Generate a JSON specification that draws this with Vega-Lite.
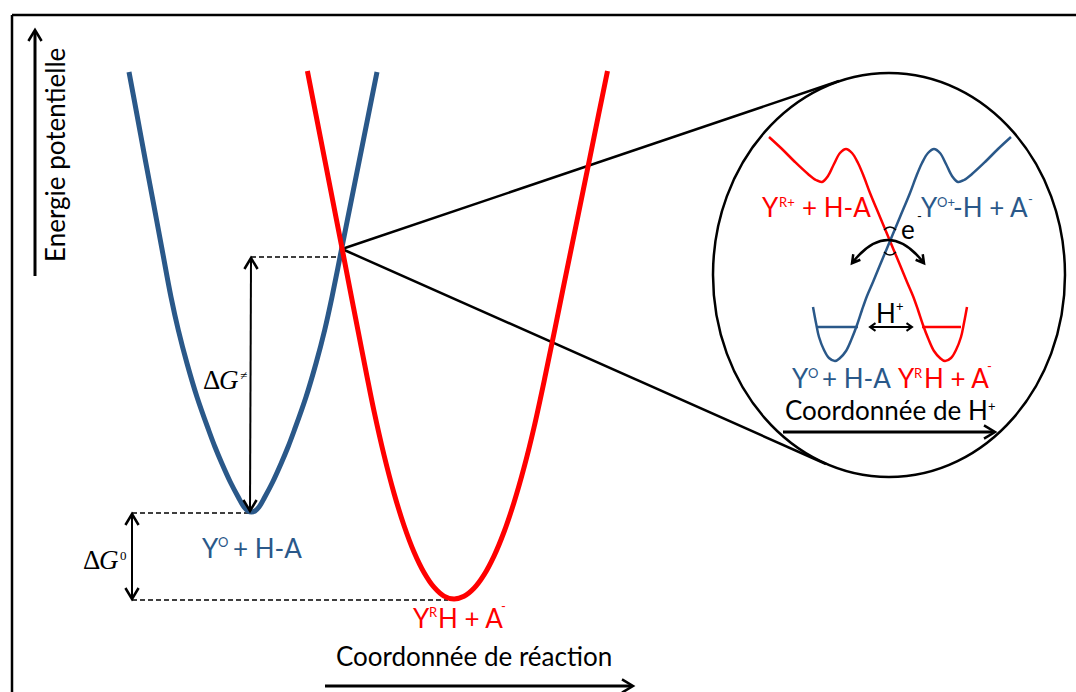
{
  "$schema": "https://vega.github.io/schema/vega-lite/v6.json",
  "width": 1076,
  "height": 692,
  "autosize": {"type": "none"},
  "padding": 0,
  "background": "#ffffff",
  "config": {"view": {"stroke": null}},
  "datasets": {
    "segments": [
      {"role": "cadre", "couleur": "noir", "x": 12, "y": 15, "x2": 1076, "y2": 15},
      {"role": "cadre", "couleur": "noir", "x": 12, "y": 15, "x2": 12, "y2": 692},
      {"role": "tangente", "couleur": "noir", "x": 342, "y": 249, "x2": 839, "y2": 81},
      {"role": "tangente", "couleur": "noir", "x": 342, "y": 249, "x2": 826, "y2": 464},
      {"role": "pointille", "couleur": "noir", "x": 251, "y": 257, "x2": 342, "y2": 257},
      {"role": "pointille", "couleur": "noir", "x": 132, "y": 513, "x2": 250, "y2": 513},
      {"role": "pointille", "couleur": "noir", "x": 132, "y": 600, "x2": 448, "y2": 600},
      {"role": "axe", "couleur": "noir", "x": 35, "y": 276, "x2": 35, "y2": 32},
      {"role": "axe", "couleur": "noir", "x": 325, "y": 686, "x2": 631, "y2": 686},
      {"role": "axe", "couleur": "noir", "x": 783, "y": 432, "x2": 993, "y2": 432},
      {"role": "delta", "couleur": "noir", "x": 251, "y": 260, "x2": 250, "y2": 509},
      {"role": "delta", "couleur": "noir", "x": 132, "y": 516, "x2": 132, "y2": 597},
      {"role": "delta", "couleur": "noir", "x": 871, "y": 327, "x2": 911, "y2": 327},
      {"role": "niveau", "couleur": "bleu", "x": 817, "y": 327, "x2": 858, "y2": 327},
      {"role": "niveau", "couleur": "rouge", "x": 922, "y": 327, "x2": 961, "y2": 327}
    ],
    "courbes": [
      {"echelle": "grande", "couleur": "bleu", "i": 0, "x": 129, "y": 72},
      {"echelle": "grande", "couleur": "bleu", "i": 1, "x": 137.2, "y": 116},
      {"echelle": "grande", "couleur": "bleu", "i": 2, "x": 145.3, "y": 160},
      {"echelle": "grande", "couleur": "bleu", "i": 3, "x": 153.6, "y": 204},
      {"echelle": "grande", "couleur": "bleu", "i": 4, "x": 161.8, "y": 248},
      {"echelle": "grande", "couleur": "bleu", "i": 5, "x": 171, "y": 297},
      {"echelle": "grande", "couleur": "bleu", "i": 6, "x": 178.3, "y": 330},
      {"echelle": "grande", "couleur": "bleu", "i": 7, "x": 186.9, "y": 363},
      {"echelle": "grande", "couleur": "bleu", "i": 8, "x": 197, "y": 397},
      {"echelle": "grande", "couleur": "bleu", "i": 9, "x": 208.6, "y": 430},
      {"echelle": "grande", "couleur": "bleu", "i": 10, "x": 215, "y": 447},
      {"echelle": "grande", "couleur": "bleu", "i": 11, "x": 221.7, "y": 463},
      {"echelle": "grande", "couleur": "bleu", "i": 12, "x": 230.3, "y": 482},
      {"echelle": "grande", "couleur": "bleu", "i": 13, "x": 238.2, "y": 497},
      {"echelle": "grande", "couleur": "bleu", "i": 14, "x": 244, "y": 507},
      {"echelle": "grande", "couleur": "bleu", "i": 15, "x": 248, "y": 511},
      {"echelle": "grande", "couleur": "bleu", "i": 16, "x": 251.5, "y": 512},
      {"echelle": "grande", "couleur": "bleu", "i": 17, "x": 255, "y": 511},
      {"echelle": "grande", "couleur": "bleu", "i": 18, "x": 259, "y": 507},
      {"echelle": "grande", "couleur": "bleu", "i": 19, "x": 264.8, "y": 497},
      {"echelle": "grande", "couleur": "bleu", "i": 20, "x": 272.7, "y": 482},
      {"echelle": "grande", "couleur": "bleu", "i": 21, "x": 281.3, "y": 463},
      {"echelle": "grande", "couleur": "bleu", "i": 22, "x": 288, "y": 447},
      {"echelle": "grande", "couleur": "bleu", "i": 23, "x": 294.4, "y": 430},
      {"echelle": "grande", "couleur": "bleu", "i": 24, "x": 306, "y": 397},
      {"echelle": "grande", "couleur": "bleu", "i": 25, "x": 316.1, "y": 363},
      {"echelle": "grande", "couleur": "bleu", "i": 26, "x": 324.7, "y": 330},
      {"echelle": "grande", "couleur": "bleu", "i": 27, "x": 332, "y": 297},
      {"echelle": "grande", "couleur": "bleu", "i": 28, "x": 341.8, "y": 248},
      {"echelle": "grande", "couleur": "bleu", "i": 29, "x": 350.6, "y": 204},
      {"echelle": "grande", "couleur": "bleu", "i": 30, "x": 359.4, "y": 160},
      {"echelle": "grande", "couleur": "bleu", "i": 31, "x": 368.2, "y": 116},
      {"echelle": "grande", "couleur": "bleu", "i": 32, "x": 377, "y": 72},
      {"echelle": "grande", "couleur": "rouge", "i": 0, "x": 307.4, "y": 71},
      {"echelle": "grande", "couleur": "rouge", "i": 1, "x": 316, "y": 115},
      {"echelle": "grande", "couleur": "rouge", "i": 2, "x": 324.8, "y": 160},
      {"echelle": "grande", "couleur": "rouge", "i": 3, "x": 333.4, "y": 204},
      {"echelle": "grande", "couleur": "rouge", "i": 4, "x": 342, "y": 248},
      {"echelle": "grande", "couleur": "rouge", "i": 5, "x": 350.1, "y": 290},
      {"echelle": "grande", "couleur": "rouge", "i": 6, "x": 357.9, "y": 330},
      {"echelle": "grande", "couleur": "rouge", "i": 7, "x": 366.8, "y": 375.4},
      {"echelle": "grande", "couleur": "rouge", "i": 8, "x": 374, "y": 411},
      {"echelle": "grande", "couleur": "rouge", "i": 9, "x": 384, "y": 455},
      {"echelle": "grande", "couleur": "rouge", "i": 10, "x": 394, "y": 493.2},
      {"echelle": "grande", "couleur": "rouge", "i": 11, "x": 404, "y": 525.5},
      {"echelle": "grande", "couleur": "rouge", "i": 12, "x": 414, "y": 552},
      {"echelle": "grande", "couleur": "rouge", "i": 13, "x": 424, "y": 572.5},
      {"echelle": "grande", "couleur": "rouge", "i": 14, "x": 434, "y": 587.2},
      {"echelle": "grande", "couleur": "rouge", "i": 15, "x": 444, "y": 596.1},
      {"echelle": "grande", "couleur": "rouge", "i": 16, "x": 454, "y": 599},
      {"echelle": "grande", "couleur": "rouge", "i": 17, "x": 464, "y": 596.3},
      {"echelle": "grande", "couleur": "rouge", "i": 18, "x": 474, "y": 588.3},
      {"echelle": "grande", "couleur": "rouge", "i": 19, "x": 484, "y": 574.9},
      {"echelle": "grande", "couleur": "rouge", "i": 20, "x": 494, "y": 556.1},
      {"echelle": "grande", "couleur": "rouge", "i": 21, "x": 504, "y": 532},
      {"echelle": "grande", "couleur": "rouge", "i": 22, "x": 514, "y": 502.5},
      {"echelle": "grande", "couleur": "rouge", "i": 23, "x": 524, "y": 467.7},
      {"echelle": "grande", "couleur": "rouge", "i": 24, "x": 534, "y": 427.5},
      {"echelle": "grande", "couleur": "rouge", "i": 25, "x": 545.6, "y": 374.1},
      {"echelle": "grande", "couleur": "rouge", "i": 26, "x": 554.7, "y": 330},
      {"echelle": "grande", "couleur": "rouge", "i": 27, "x": 562.8, "y": 290},
      {"echelle": "grande", "couleur": "rouge", "i": 28, "x": 571.4, "y": 248},
      {"echelle": "grande", "couleur": "rouge", "i": 29, "x": 580.4, "y": 204},
      {"echelle": "grande", "couleur": "rouge", "i": 30, "x": 589.4, "y": 160},
      {"echelle": "grande", "couleur": "rouge", "i": 31, "x": 598.5, "y": 115},
      {"echelle": "grande", "couleur": "rouge", "i": 32, "x": 607.5, "y": 71},
      {"echelle": "encart", "couleur": "rouge", "i": 0, "x": 769, "y": 137},
      {"echelle": "encart", "couleur": "rouge", "i": 1, "x": 782, "y": 149},
      {"echelle": "encart", "couleur": "rouge", "i": 2, "x": 795, "y": 162},
      {"echelle": "encart", "couleur": "rouge", "i": 3, "x": 808, "y": 174},
      {"echelle": "encart", "couleur": "rouge", "i": 4, "x": 816, "y": 180},
      {"echelle": "encart", "couleur": "rouge", "i": 5, "x": 822, "y": 182},
      {"echelle": "encart", "couleur": "rouge", "i": 6, "x": 828, "y": 176},
      {"echelle": "encart", "couleur": "rouge", "i": 7, "x": 834, "y": 164},
      {"echelle": "encart", "couleur": "rouge", "i": 8, "x": 840, "y": 153},
      {"echelle": "encart", "couleur": "rouge", "i": 9, "x": 846, "y": 149},
      {"echelle": "encart", "couleur": "rouge", "i": 10, "x": 852, "y": 153},
      {"echelle": "encart", "couleur": "rouge", "i": 11, "x": 858, "y": 163},
      {"echelle": "encart", "couleur": "rouge", "i": 12, "x": 864, "y": 177},
      {"echelle": "encart", "couleur": "rouge", "i": 13, "x": 870, "y": 193},
      {"echelle": "encart", "couleur": "rouge", "i": 14, "x": 880, "y": 217},
      {"echelle": "encart", "couleur": "rouge", "i": 15, "x": 890, "y": 241},
      {"echelle": "encart", "couleur": "rouge", "i": 16, "x": 900, "y": 265},
      {"echelle": "encart", "couleur": "rouge", "i": 17, "x": 907, "y": 282},
      {"echelle": "encart", "couleur": "rouge", "i": 18, "x": 913, "y": 296},
      {"echelle": "encart", "couleur": "rouge", "i": 19, "x": 918, "y": 310},
      {"echelle": "encart", "couleur": "rouge", "i": 20, "x": 923, "y": 325},
      {"echelle": "encart", "couleur": "rouge", "i": 21, "x": 928, "y": 338},
      {"echelle": "encart", "couleur": "rouge", "i": 22, "x": 934, "y": 351},
      {"echelle": "encart", "couleur": "rouge", "i": 23, "x": 940, "y": 358},
      {"echelle": "encart", "couleur": "rouge", "i": 24, "x": 945, "y": 361},
      {"echelle": "encart", "couleur": "rouge", "i": 25, "x": 951, "y": 358},
      {"echelle": "encart", "couleur": "rouge", "i": 26, "x": 956, "y": 350},
      {"echelle": "encart", "couleur": "rouge", "i": 27, "x": 961, "y": 337},
      {"echelle": "encart", "couleur": "rouge", "i": 28, "x": 964, "y": 323},
      {"echelle": "encart", "couleur": "rouge", "i": 29, "x": 967, "y": 307},
      {"echelle": "encart", "couleur": "bleu", "i": 0, "x": 1011, "y": 137},
      {"echelle": "encart", "couleur": "bleu", "i": 1, "x": 998, "y": 149},
      {"echelle": "encart", "couleur": "bleu", "i": 2, "x": 985, "y": 162},
      {"echelle": "encart", "couleur": "bleu", "i": 3, "x": 972, "y": 174},
      {"echelle": "encart", "couleur": "bleu", "i": 4, "x": 964, "y": 180},
      {"echelle": "encart", "couleur": "bleu", "i": 5, "x": 958, "y": 182},
      {"echelle": "encart", "couleur": "bleu", "i": 6, "x": 952, "y": 176},
      {"echelle": "encart", "couleur": "bleu", "i": 7, "x": 946, "y": 164},
      {"echelle": "encart", "couleur": "bleu", "i": 8, "x": 940, "y": 153},
      {"echelle": "encart", "couleur": "bleu", "i": 9, "x": 934, "y": 149},
      {"echelle": "encart", "couleur": "bleu", "i": 10, "x": 928, "y": 153},
      {"echelle": "encart", "couleur": "bleu", "i": 11, "x": 922, "y": 163},
      {"echelle": "encart", "couleur": "bleu", "i": 12, "x": 916, "y": 177},
      {"echelle": "encart", "couleur": "bleu", "i": 13, "x": 910, "y": 193},
      {"echelle": "encart", "couleur": "bleu", "i": 14, "x": 900, "y": 217},
      {"echelle": "encart", "couleur": "bleu", "i": 15, "x": 890, "y": 241},
      {"echelle": "encart", "couleur": "bleu", "i": 16, "x": 880, "y": 265},
      {"echelle": "encart", "couleur": "bleu", "i": 17, "x": 873, "y": 282},
      {"echelle": "encart", "couleur": "bleu", "i": 18, "x": 867, "y": 296},
      {"echelle": "encart", "couleur": "bleu", "i": 19, "x": 862, "y": 310},
      {"echelle": "encart", "couleur": "bleu", "i": 20, "x": 857, "y": 325},
      {"echelle": "encart", "couleur": "bleu", "i": 21, "x": 852, "y": 338},
      {"echelle": "encart", "couleur": "bleu", "i": 22, "x": 846, "y": 351},
      {"echelle": "encart", "couleur": "bleu", "i": 23, "x": 840, "y": 358},
      {"echelle": "encart", "couleur": "bleu", "i": 24, "x": 835, "y": 361},
      {"echelle": "encart", "couleur": "bleu", "i": 25, "x": 829, "y": 358},
      {"echelle": "encart", "couleur": "bleu", "i": 26, "x": 824, "y": 350},
      {"echelle": "encart", "couleur": "bleu", "i": 27, "x": 819, "y": 337},
      {"echelle": "encart", "couleur": "bleu", "i": 28, "x": 816, "y": 323},
      {"echelle": "encart", "couleur": "bleu", "i": 29, "x": 813, "y": 307}
    ],
    "pointes": [
      {"taille": "grande", "x": 35, "y": 30, "dir": 0},
      {"taille": "grande", "x": 633, "y": 686, "dir": 90},
      {"taille": "grande", "x": 995, "y": 432, "dir": 90},
      {"taille": "grande", "x": 251, "y": 258, "dir": 0},
      {"taille": "grande", "x": 250, "y": 511, "dir": 180},
      {"taille": "grande", "x": 132, "y": 514, "dir": 0},
      {"taille": "grande", "x": 132, "y": 599, "dir": 180},
      {"taille": "petite", "x": 870, "y": 327, "dir": 270},
      {"taille": "petite", "x": 912, "y": 327, "dir": 90}
    ],
    "textes": [
      {"couleur": "noir", "x": 336, "y": 666, "texte": "Coordonnée de réaction"},
      {"couleur": "bleu", "x": 202, "y": 558, "texte": "Y"},
      {"couleur": "bleu", "x": 233, "y": 558, "texte": "+ H-A"},
      {"couleur": "rouge", "x": 413, "y": 628, "texte": "Y"},
      {"couleur": "rouge", "x": 438, "y": 628, "texte": "H + A"},
      {"couleur": "rouge", "x": 762, "y": 217, "texte": "Y"},
      {"couleur": "rouge", "x": 802, "y": 217, "texte": "+ H-A"},
      {"couleur": "bleu", "x": 921, "y": 217, "texte": "Y"},
      {"couleur": "bleu", "x": 953, "y": 217, "texte": "-H + A"},
      {"couleur": "noir", "x": 901, "y": 239, "texte": "e"},
      {"couleur": "noir", "x": 876, "y": 323, "texte": "H"},
      {"couleur": "bleu", "x": 792, "y": 388, "texte": "Y"},
      {"couleur": "bleu", "x": 822, "y": 388, "texte": "+ H-A"},
      {"couleur": "rouge", "x": 898, "y": 388, "texte": "Y"},
      {"couleur": "rouge", "x": 924, "y": 388, "texte": "H + A"},
      {"couleur": "noir", "x": 785, "y": 420, "texte": "Coordonnée de H"}
    ],
    "exposants": [
      {"couleur": "bleu", "x": 218, "y": 547, "texte": "O"},
      {"couleur": "rouge", "x": 429, "y": 617, "texte": "R"},
      {"couleur": "rouge", "x": 501, "y": 611, "texte": "-"},
      {"couleur": "rouge", "x": 779, "y": 207, "texte": "R+"},
      {"couleur": "bleu", "x": 937, "y": 207, "texte": "O+"},
      {"couleur": "bleu", "x": 1028, "y": 204, "texte": "-"},
      {"couleur": "noir", "x": 917, "y": 221, "texte": "-"},
      {"couleur": "noir", "x": 896, "y": 311, "texte": "+"},
      {"couleur": "bleu", "x": 808, "y": 378, "texte": "O"},
      {"couleur": "rouge", "x": 914, "y": 378, "texte": "R"},
      {"couleur": "rouge", "x": 987, "y": 371, "texte": "-"},
      {"couleur": "noir", "x": 988, "y": 411, "texte": "+"}
    ]
  },
  "encoding": {
    "x": {"field": "x", "type": "quantitative", "scale": {"domain": [0, 1076], "nice": false, "zero": false}, "axis": null},
    "y": {"field": "y", "type": "quantitative", "scale": {"domain": [0, 692], "nice": false, "zero": false, "reverse": true}, "axis": null}
  },
  "layer": [
    {
      "data": {"name": "segments"},
      "transform": [{"filter": "datum.role === 'cadre' || datum.role === 'tangente'"}],
      "mark": {"type": "rule", "strokeWidth": 2.5, "color": "#000000"},
      "encoding": {"x2": {"field": "x2"}, "y2": {"field": "y2"}}
    },
    {
      "data": {"name": "segments"},
      "transform": [{"filter": "datum.role === 'pointille'"}],
      "mark": {"type": "rule", "strokeWidth": 1.5, "strokeDash": [5, 3], "color": "#000000"},
      "encoding": {"x2": {"field": "x2"}, "y2": {"field": "y2"}}
    },
    {
      "data": {"name": "segments"},
      "transform": [{"filter": "datum.role === 'axe'"}],
      "mark": {"type": "rule", "strokeWidth": 3, "color": "#000000"},
      "encoding": {"x2": {"field": "x2"}, "y2": {"field": "y2"}}
    },
    {
      "data": {"name": "segments"},
      "transform": [{"filter": "datum.role === 'delta'"}],
      "mark": {"type": "rule", "strokeWidth": 2, "color": "#000000"},
      "encoding": {"x2": {"field": "x2"}, "y2": {"field": "y2"}}
    },
    {
      "data": {"name": "segments"},
      "transform": [{"filter": "datum.role === 'niveau'"}],
      "mark": {"type": "rule", "strokeWidth": 2.5},
      "encoding": {
        "x2": {"field": "x2"}, "y2": {"field": "y2"},
        "color": {"field": "couleur", "type": "nominal", "scale": {"domain": ["noir", "bleu", "rouge"], "range": ["#000000", "#2a5889", "#ff0000"]}, "legend": null}
      }
    },
    {
      "data": {"name": "courbes"},
      "transform": [{"filter": "datum.echelle === 'grande'"}],
      "mark": {"type": "line", "interpolate": "catmull-rom", "strokeWidth": 5, "strokeCap": "butt"},
      "encoding": {
        "order": {"field": "i", "type": "quantitative"},
        "color": {"field": "couleur", "type": "nominal", "scale": {"domain": ["noir", "bleu", "rouge"], "range": ["#000000", "#2a5889", "#ff0000"]}, "legend": null}
      }
    },
    {
      "data": {"name": "courbes"},
      "transform": [{"filter": "datum.echelle === 'encart'"}],
      "mark": {"type": "line", "interpolate": "catmull-rom", "strokeWidth": 2.5},
      "encoding": {
        "order": {"field": "i", "type": "quantitative"},
        "color": {"field": "couleur", "type": "nominal", "scale": {"domain": ["noir", "bleu", "rouge"], "range": ["#000000", "#2a5889", "#ff0000"]}, "legend": null}
      }
    },
    {
      "data": {"values": [{"x": 889, "y": 275}]},
      "mark": {"type": "point", "shape": "M-1,0C-1,-0.634 -0.552,-1.148 0,-1.148C0.552,-1.148 1,-0.634 1,0C1,0.634 0.552,1.148 0,1.148C-0.552,1.148 -1,0.634 -1,0Z", "filled": false, "color": "#000000", "strokeWidth": 2.5, "size": 123904, "opacity": 1}
    },
    {
      "data": {"name": "pointes"},
      "transform": [{"filter": "datum.taille === 'grande'"}],
      "mark": {"type": "point", "shape": "M-0.6,1L0,0L0.6,1", "filled": false, "color": "#000000", "strokeWidth": 2.5, "size": 484, "opacity": 1},
      "encoding": {"angle": {"field": "dir", "type": "quantitative", "scale": null}}
    },
    {
      "data": {"name": "pointes"},
      "transform": [{"filter": "datum.taille === 'petite'"}],
      "mark": {"type": "point", "shape": "M-0.7,1L0,0L0.7,1", "filled": false, "color": "#000000", "strokeWidth": 2, "size": 121, "opacity": 1},
      "encoding": {"angle": {"field": "dir", "type": "quantitative", "scale": null}}
    },
    {
      "data": {"values": [{"x": 888, "y": 252}]},
      "mark": {"type": "point", "shape": "M-1,0.31Q0,-0.97 1,0.31M-0.768,0.216L-1,0.31L-0.965,0.062M0.768,0.216L1,0.31L0.965,0.062", "filled": false, "color": "#000000", "strokeWidth": 2.5, "size": 5184, "opacity": 1}
    },
    {
      "data": {"values": [{"x": 890, "y": 227, "dir": 0}, {"x": 890, "y": 255, "dir": 180}]},
      "mark": {"type": "point", "shape": "M-1,0.5Q0,-0.5 1,0.5", "filled": false, "color": "#000000", "strokeWidth": 1.5, "size": 144, "opacity": 1},
      "encoding": {"angle": {"field": "dir", "type": "quantitative", "scale": null}}
    },
    {
      "data": {"name": "textes"},
      "mark": {"type": "text", "font": "Lato", "fontSize": 26, "align": "left", "baseline": "alphabetic"},
      "encoding": {
        "text": {"field": "texte"},
        "color": {"field": "couleur", "type": "nominal", "scale": {"domain": ["noir", "bleu", "rouge"], "range": ["#000000", "#2a5889", "#ff0000"]}, "legend": null}
      }
    },
    {
      "data": {"name": "exposants"},
      "mark": {"type": "text", "font": "Lato", "fontSize": 13, "align": "left", "baseline": "alphabetic"},
      "encoding": {
        "text": {"field": "texte"},
        "color": {"field": "couleur", "type": "nominal", "scale": {"domain": ["noir", "bleu", "rouge"], "range": ["#000000", "#2a5889", "#ff0000"]}, "legend": null}
      }
    },
    {
      "data": {"values": [{"x": 65, "y": 262, "texte": "Energie potentielle"}]},
      "mark": {"type": "text", "font": "Lato", "fontSize": 26, "align": "left", "baseline": "alphabetic", "angle": 270, "color": "#000000"},
      "encoding": {"text": {"field": "texte"}}
    },
    {
      "data": {"values": [{"x": 203, "y": 389, "texte": "Δ"}, {"x": 83, "y": 569, "texte": "Δ"}]},
      "mark": {"type": "text", "font": "Liberation Serif", "fontSize": 27, "align": "left", "baseline": "alphabetic", "color": "#000000"},
      "encoding": {"text": {"field": "texte"}}
    },
    {
      "data": {"values": [{"x": 219, "y": 389, "texte": "G"}, {"x": 99, "y": 569, "texte": "G"}]},
      "mark": {"type": "text", "font": "Liberation Serif", "fontStyle": "italic", "fontSize": 27, "align": "left", "baseline": "alphabetic", "color": "#000000"},
      "encoding": {"text": {"field": "texte"}}
    },
    {
      "data": {"values": [{"x": 240, "y": 380, "texte": "≠"}, {"x": 120, "y": 560, "texte": "0"}]},
      "mark": {"type": "text", "font": "Liberation Serif", "fontSize": 13, "align": "left", "baseline": "alphabetic", "color": "#000000"},
      "encoding": {"text": {"field": "texte"}}
    }
  ]
}
